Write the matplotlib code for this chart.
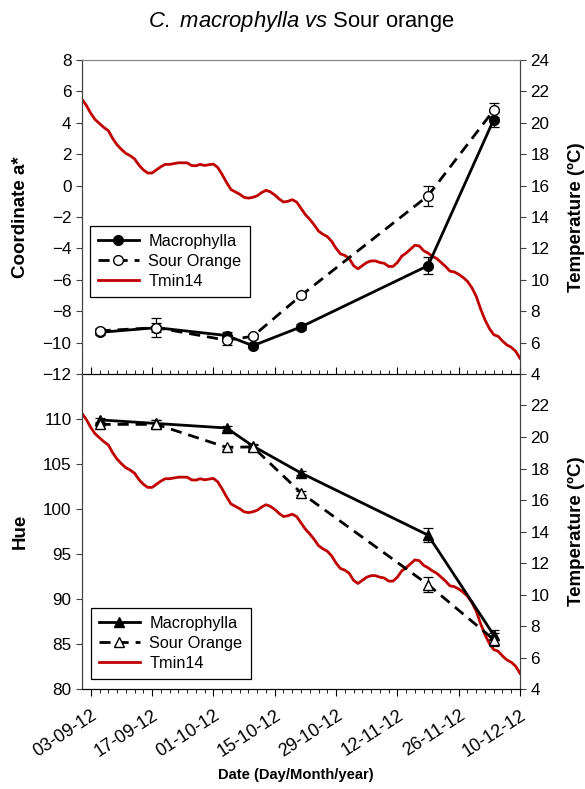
import matplotlib
matplotlib.use("Agg")
import matplotlib.pyplot as plt
import matplotlib.dates as mdates
from matplotlib.ticker import FixedLocator
from matplotlib.lines import Line2D
import pandas as pd

plt.rcParams["font.family"] = ["Liberation Sans", "DejaVu Sans"]
plt.rcParams["mathtext.fontset"] = "custom"
plt.rcParams["mathtext.it"] = "Liberation Sans:italic"
plt.rcParams["mathtext.rm"] = "Liberation Sans"

# sampling dates
sample_dates = pd.to_datetime(["2012-09-05", "2012-09-18", "2012-10-04", "2012-10-10",
                               "2012-10-21", "2012-11-19", "2012-12-04"])

# coordinate a*
a_macro = [-9.35, -9.05, -9.55, -10.2, -9.0, -5.1, 4.2]
a_macro_err = [0.15, 0.3, 0.2, 0.15, 0.2, 0.55, 0.5]
a_sour = [-9.25, -9.05, -9.85, -9.6, -7.0, -0.65, 4.8]
a_sour_err = [0.15, 0.6, 0.3, 0.15, 0.15, 0.65, 0.45]

# hue
hue_macro = [109.9, 109.5, 109.0, 107.0, 104.0, 97.1, 86.0]
hue_macro_err = [0.2, 0.4, 0.2, 0.2, 0.2, 0.8, 0.6]
hue_sour = [109.4, 109.4, 106.85, 106.9, 101.8, 91.6, 85.5]
hue_sour_err = [0.2, 0.5, 0.2, 0.2, 0.2, 0.8, 0.7]

# daily minimum temperature (14 day mean), 01-09-12 .. 10-12-12
tmin_dates = pd.date_range("2012-09-01", "2012-12-10", freq="D")
tmin14 = [21.5, 21.1, 20.6, 20.2, 19.95, 19.7, 19.5, 19.0, 18.6, 18.3,
          18.05, 17.9, 17.7, 17.3, 17.0, 16.8, 16.8, 17.0, 17.2, 17.35,
          17.35, 17.4, 17.45, 17.45, 17.45, 17.28, 17.26, 17.35, 17.28, 17.33,
          17.37, 17.15, 16.7, 16.2, 15.75, 15.6, 15.45, 15.25, 15.2, 15.25,
          15.35, 15.55, 15.7, 15.6, 15.4, 15.15, 14.95, 15.0, 15.1, 14.95,
          14.55, 14.15, 13.85, 13.5, 13.1, 12.9, 12.75, 12.45, 12.0, 11.65,
          11.55, 11.35, 10.9, 10.7, 10.9, 11.1, 11.2, 11.2, 11.1, 11.05,
          10.85, 10.85, 11.1, 11.5, 11.7, 11.95, 12.2, 12.15, 11.85, 11.7,
          11.5, 11.35, 11.1, 10.85, 10.55, 10.5, 10.35, 10.15, 9.9, 9.5,
          8.95, 8.15, 7.45, 6.9, 6.5, 6.4, 6.1, 5.85, 5.7, 5.45, 5.0]

RED = "#C00000"
FS = 12.3
DASH = (0, (4, 2.5))

fig = plt.figure(figsize=(5.85, 7.89), dpi=100)
ax1 = fig.add_axes([0.1402, 0.526, 0.7487, 0.398])
ax2 = fig.add_axes([0.1402, 0.1267, 0.7487, 0.3993], sharex=ax1)


def panel(ax, y1, e1, y2, e2, marker, ylim, yticks, ylabel, legend_anchor):
    tw = ax.twinx()
    tw.plot(tmin_dates, tmin14, color=RED, lw=2)
    tw.set_ylim(4, 24)
    ax.set_zorder(tw.get_zorder() + 1)
    ax.patch.set_visible(False)

    ax.errorbar(sample_dates, y1, yerr=e1, color="black", lw=2, marker=marker,
                ms=7, mfc="black", mec="black", ecolor="black", elinewidth=0.9,
                capsize=3.5, capthick=0.9)
    ax.errorbar(sample_dates, y2, yerr=e2, color="black", lw=2, ls=DASH,
                marker=marker, ms=7, mfc="white", mec="black", ecolor="black",
                elinewidth=0.9, capsize=3.5, capthick=0.9)
    ax.set_ylim(*ylim)
    ax.set_yticks(yticks)
    ax.set_ylabel(ylabel, fontsize=13.5, fontweight="bold")
    ax.yaxis.set_label_coords(-0.121, 0.5)
    tw.set_ylabel("Temperature (ºC)", fontsize=13.5, fontweight="bold")
    tw.yaxis.set_label_coords(1.11, 0.5)

    ax.tick_params(axis="y", labelsize=FS, direction="out", length=4, color="#404040")
    tw.tick_params(axis="y", labelsize=FS, direction="out", length=4, color="#404040")
    for a in (ax, tw):
        a.spines["left"].set_color("#404040")
        a.spines["right"].set_color("#404040")

    handles = [
        Line2D([], [], color="black", lw=2, marker=marker, ms=7, mfc="black"),
        Line2D([], [], color="black", lw=2, ls=DASH, marker=marker, ms=7, mfc="white"),
        Line2D([], [], color=RED, lw=2),
    ]
    leg = ax.legend(handles, ["Macrophylla", "Sour Orange", "Tmin14"], loc="lower left",
                    bbox_to_anchor=legend_anchor, borderaxespad=0, fontsize=11.7,
                    handlelength=2.5, handletextpad=0.6, labelspacing=0.3,
                    fancybox=False, framealpha=1, edgecolor="black", borderpad=0.5)
    leg.get_frame().set_linewidth(0.9)
    return tw


tw1 = panel(ax1, a_macro, a_macro_err, a_sour, a_sour_err, "o",
            (-12, 8), range(-12, 9, 2), "Coordinate a*", (0.018, 0.245))
tw1.set_yticks(range(4, 25, 2))
tw1.spines["top"].set_color("#808080")
ax1.spines["top"].set_color("#808080")

tw2 = panel(ax2, hue_macro, hue_macro_err, hue_sour, hue_sour_err, "^",
            (80, 115), range(80, 111, 5), "Hue", (0.02, 0.032))
tw2.set_yticks(range(4, 23, 2))
for a in (ax2, tw2):
    a.spines["top"].set_visible(False)

# x axis
ax1.set_xlim(pd.Timestamp("2012-09-01"), pd.Timestamp("2012-12-10"))
major = pd.date_range("2012-09-03", "2012-12-10", freq="14D")
minor = pd.date_range("2012-09-03", "2012-12-10", freq="2D")
ax2.xaxis.set_major_locator(FixedLocator(mdates.date2num(major)))
ax2.xaxis.set_minor_locator(FixedLocator(mdates.date2num(minor)))
ax2.xaxis.set_major_formatter(mdates.DateFormatter("%d-%m-%y"))
ax1.tick_params(axis="x", which="both", direction="in", labelbottom=False)
ax1.tick_params(axis="x", which="major", length=5)
ax1.tick_params(axis="x", which="minor", length=3)
ax2.tick_params(axis="x", which="major", direction="out", length=5, labelsize=13,
                pad=8, labelrotation=33)
ax2.tick_params(axis="x", which="minor", direction="out", length=3)
for lbl in ax2.get_xticklabels():
    lbl.set_ha("right")
    lbl.set_rotation_mode("anchor")

ax2.set_xlabel("Date (Day/Month/year)", fontsize=10.6, fontweight="bold")
ax2.xaxis.set_label_coords(0.489, -0.252)

fig.text(0.5145, 0.973, r"$\it{C.\ macrophylla\ vs}$ Sour orange",
         ha="center", va="center", fontsize=15.8)

fig.savefig("out.png", dpi=100)
